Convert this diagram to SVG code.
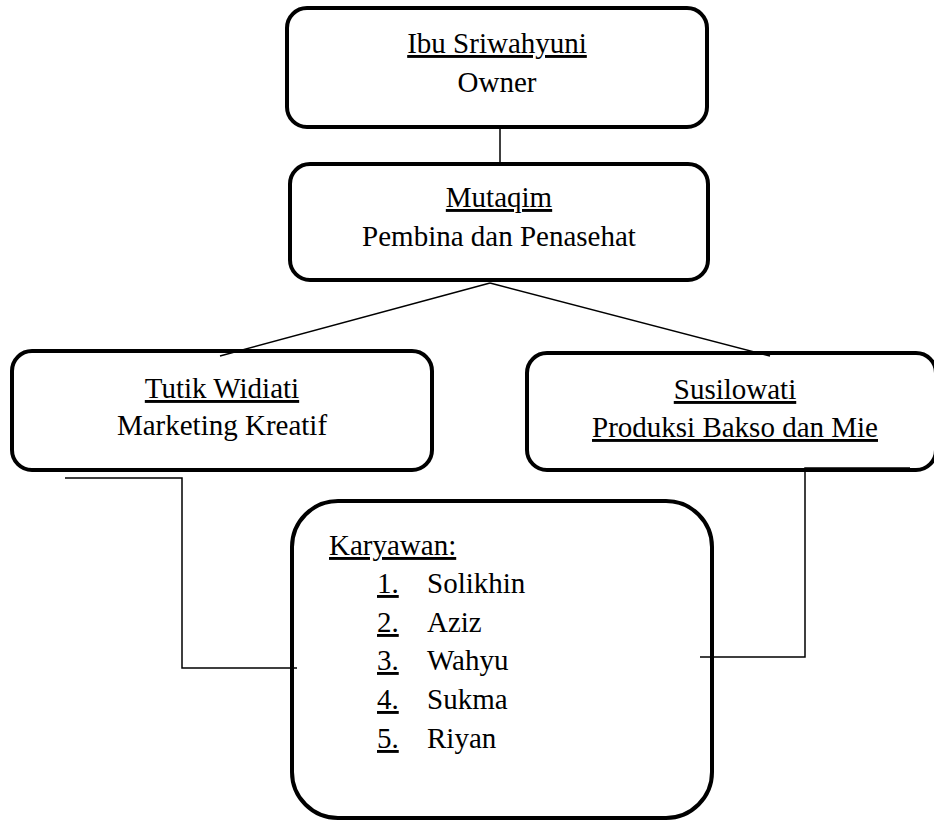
<svg xmlns="http://www.w3.org/2000/svg" width="934" height="820" viewBox="0 0 934 820">
<style>
.box{fill:#fff;stroke:#000;stroke-width:4}
.con{fill:none;stroke:#000;stroke-width:1.5}
.t{font-family:'Liberation Serif','Times New Roman',Times,serif;font-size:29px;fill:#000}
.c{text-anchor:middle}
.u{text-decoration:underline}
</style>
<rect width="934" height="820" fill="#fff"/>
<g id="owner">
<rect class="box" x="287" y="8" width="420" height="119" rx="20"/>
<text class="t c u" x="497" y="53">Ibu Sriwahyuni</text>
<text class="t c" x="497" y="92">Owner</text>
</g>
<g id="pembina">
<rect class="box" x="290" y="164" width="418" height="116" rx="20"/>
<text class="t c u" x="499" y="207">Mutaqim</text>
<text class="t c" x="499" y="246">Pembina dan Penasehat</text>
</g>
<g id="marketing">
<rect class="box" x="12" y="351" width="420" height="119" rx="20"/>
<text class="t c u" x="222" y="398">Tutik Widiati</text>
<text class="t c" x="222" y="435">Marketing Kreatif</text>
</g>
<g id="produksi">
<rect class="box" x="527" y="353" width="409" height="117" rx="20"/>
<text class="t c u" x="735" y="399">Susilowati</text>
<text class="t c u" x="735" y="437">Produksi Bakso dan Mie</text>
</g>
<g id="karyawan">
<rect class="box" x="292" y="501" width="420" height="317" rx="46"/>
<text class="t u" x="329" y="555">Karyawan:</text>
<text class="t u" x="377" y="593">1.</text><text class="t" x="427" y="593">Solikhin</text>
<text class="t u" x="377" y="632">2.</text><text class="t" x="427" y="632">Aziz</text>
<text class="t u" x="377" y="670">3.</text><text class="t" x="427" y="670">Wahyu</text>
<text class="t u" x="377" y="709">4.</text><text class="t" x="427" y="709">Sukma</text>
<text class="t u" x="377" y="748">5.</text><text class="t" x="427" y="748">Riyan</text>
</g>
<g id="connectors">
<line class="con" x1="500" y1="129" x2="500" y2="163"/>
<line class="con" x1="490" y1="283" x2="220" y2="356"/>
<line class="con" x1="490" y1="283" x2="770" y2="356"/>
<polyline class="con" points="65,478 182,478 182,668 297,668"/>
<polyline class="con" points="910,468 805,468 805,657 700,657"/>
</g>
</svg>
